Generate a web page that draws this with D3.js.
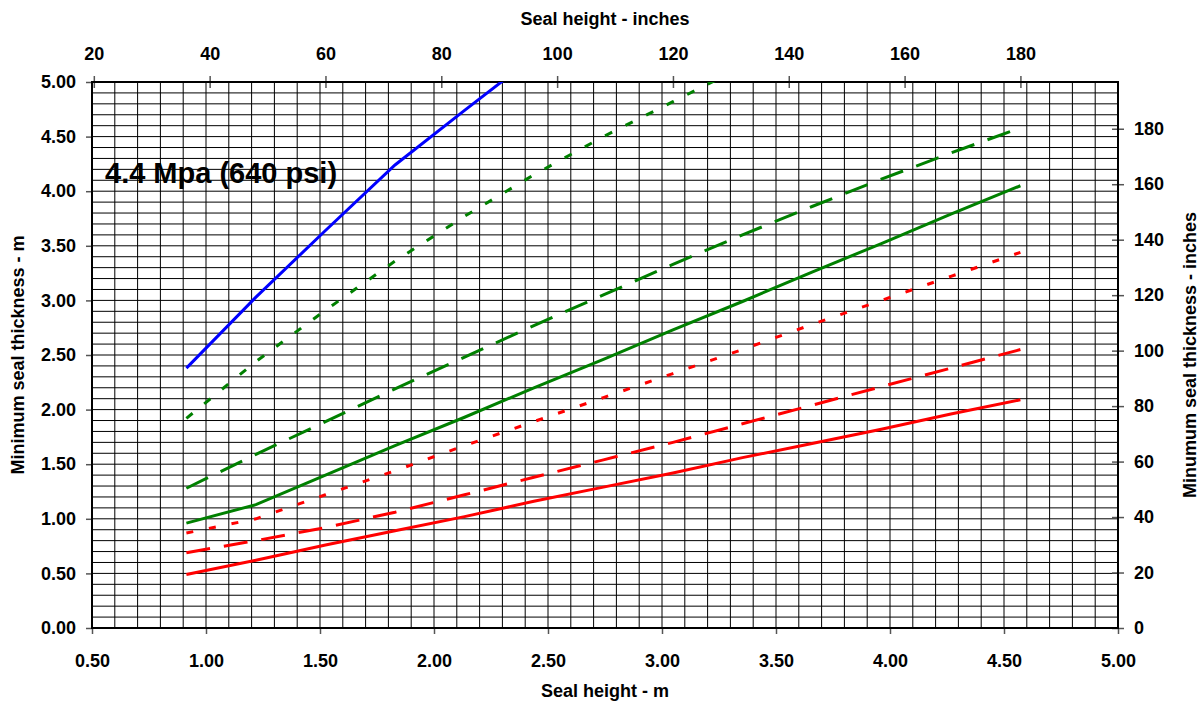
<!DOCTYPE html>
<html>
<head>
<meta charset="utf-8">
<script src="https://cdn.jsdelivr.net/npm/d3@7"></script>
<style>
  body { margin: 0; background: #fff; }
  text { font-family: "Liberation Sans", Arial, sans-serif; font-weight: bold; fill: #000; }
</style>
</head>
<body>
<svg id="chart" width="1199" height="702"></svg>
<script>
// seal heights (m), 3 ft to 15 ft
var sealHeight = [0.914, 1.219, 1.524, 1.829, 2.134, 2.438, 2.743, 3.048, 3.353, 3.658, 3.962, 4.267, 4.572];

// minimum seal thickness (m) for each curve
var blueSolid   = [2.38, 3.03, 3.64, 4.24, 4.74, 5.23];
var greenDotted = [1.92, 2.44, 2.91, 3.36, 3.77, 4.15, 4.50, 4.82, 5.14];
var greenDashed = [1.28, 1.59, 1.89, 2.19, 2.48, 2.77, 3.05, 3.33, 3.60, 3.86, 4.11, 4.35, 4.58];
var greenSolid  = [0.96, 1.13, 1.40, 1.67, 1.93, 2.20, 2.46, 2.73, 2.99, 3.26, 3.52, 3.79, 4.05];
var redDotted   = [0.87, 1.00, 1.22, 1.44, 1.67, 1.89, 2.11, 2.33, 2.55, 2.78, 3.00, 3.22, 3.44];
var redDashed   = [0.69, 0.80, 0.92, 1.06, 1.22, 1.38, 1.54, 1.70, 1.87, 2.04, 2.21, 2.38, 2.55];
var redSolid    = [0.49, 0.62, 0.76, 0.89, 1.02, 1.16, 1.29, 1.42, 1.56, 1.69, 1.82, 1.96, 2.09];

var series = [
    {values: blueSolid,   color: '#0000ff', dash: null},
    {values: greenDotted, color: '#008000', dash: '8,15'},
    {values: greenDashed, color: '#008000', dash: '24,14'},
    {values: greenSolid,  color: '#008000', dash: null},
    {values: redDotted,   color: '#ff0000', dash: '7,16'},
    {values: redDashed,   color: '#ff0000', dash: '24,14'},
    {values: redSolid,    color: '#ff0000', dash: null}
];

var meterTicksX = [0.5, 1.0, 1.5, 2.0, 2.5, 3.0, 3.5, 4.0, 4.5, 5.0];
var meterTicksY = [0, 0.5, 1.0, 1.5, 2.0, 2.5, 3.0, 3.5, 4.0, 4.5, 5.0];
var inchTicksX = [20, 40, 60, 80, 100, 120, 140, 160, 180];
var inchTicksY = [0, 20, 40, 60, 80, 100, 120, 140, 160, 180];

var svg = d3.select('#chart');
var plotLeft = 92, plotRight = 1118, plotTop = 82, plotBottom = 628;

var x = d3.scaleLinear().domain([0.5, 5]).range([plotLeft, plotRight]);
var y = d3.scaleLinear().domain([0, 5]).range([plotBottom, plotTop]);
var xIn = d3.scaleLinear().domain([0.5 / 0.0254, 5 / 0.0254]).range([plotLeft, plotRight]);
var yIn = d3.scaleLinear().domain([0, 5 / 0.0254]).range([plotBottom, plotTop]);

// grid every 0.1 m
var grid = svg.append('g').attr('class', 'grid');
d3.range(6, 50).forEach(function (i) {
    grid.append('line')
        .attr('x1', x(i / 10)).attr('x2', x(i / 10))
        .attr('y1', plotTop).attr('y2', plotBottom)
        .attr('stroke', '#000').attr('stroke-width', 1);
});
d3.range(1, 50).forEach(function (i) {
    grid.append('line')
        .attr('x1', plotLeft).attr('x2', plotRight)
        .attr('y1', y(i / 10)).attr('y2', y(i / 10))
        .attr('stroke', '#000').attr('stroke-width', 1);
});

// axes
var fmt = d3.format('.2f');
var axisB = svg.append('g').attr('transform', 'translate(0,' + plotBottom + ')')
    .call(d3.axisBottom(x).tickValues(meterTicksX).tickFormat(fmt).tickSize(6).tickPadding(20));
var axisL = svg.append('g').attr('transform', 'translate(' + plotLeft + ',0)')
    .call(d3.axisLeft(y).tickValues(meterTicksY).tickFormat(fmt).tickSize(6).tickPadding(10));
var axisT = svg.append('g').attr('transform', 'translate(0,' + plotTop + ')')
    .call(d3.axisTop(xIn).tickValues(inchTicksX).tickFormat(d3.format('d')).tickSize(6).tickPadding(16));
var axisR = svg.append('g').attr('transform', 'translate(' + plotRight + ',0)')
    .call(d3.axisRight(yIn).tickValues(inchTicksY).tickFormat(d3.format('d')).tickSize(6).tickPadding(10));

[axisB, axisL, axisT, axisR].forEach(function (a) {
    a.select('.domain').remove();
    a.selectAll('.tick line').attr('stroke', '#555').attr('stroke-width', 1.5);
    a.selectAll('.tick text').style('font-size', '18px')
        .style('font-family', '"Liberation Sans", Arial, sans-serif').style('font-weight', 'bold');
});
// top and right ticks cross the frame
axisT.selectAll('.tick line').attr('y1', 6);
axisR.selectAll('.tick line').attr('x1', -6);

// frame
svg.append('rect')
    .attr('x', plotLeft).attr('y', plotTop)
    .attr('width', plotRight - plotLeft).attr('height', plotBottom - plotTop)
    .attr('fill', 'none').attr('stroke', '#000').attr('stroke-width', 2);

// clip for curves running off the top
svg.append('clipPath').attr('id', 'plotclip')
    .append('rect').attr('x', plotLeft).attr('y', plotTop)
    .attr('width', plotRight - plotLeft).attr('height', plotBottom - plotTop);

var line = d3.line()
    .x(function (d, i) { return x(sealHeight[i]); })
    .y(function (d) { return y(d); });

svg.append('g').attr('clip-path', 'url(#plotclip)')
    .selectAll('path')
    .data(series)
    .enter().append('path')
    .attr('d', function (s) { return line(s.values); })
    .attr('fill', 'none')
    .attr('stroke', function (s) { return s.color; })
    .attr('stroke-width', 3)
    .attr('stroke-dasharray', function (s) { return s.dash; });

// labels
svg.append('text').attr('x', 105).attr('y', 183)
    .style('font-size', '29px').text('4.4 Mpa (640 psi)');

svg.append('text').attr('x', 605).attr('y', 25).attr('text-anchor', 'middle')
    .style('font-size', '18px').text('Seal height - inches');
svg.append('text').attr('x', 605).attr('y', 697).attr('text-anchor', 'middle')
    .style('font-size', '18px').text('Seal height - m');
svg.append('text').attr('transform', 'translate(24,355) rotate(-90)').attr('text-anchor', 'middle')
    .style('font-size', '18px').text('Minimum seal thickness - m');
svg.append('text').attr('transform', 'translate(1196,355) rotate(-90)').attr('text-anchor', 'middle')
    .style('font-size', '18px').text('Minumum seal thickness - inches');
</script>
</body>
</html>
